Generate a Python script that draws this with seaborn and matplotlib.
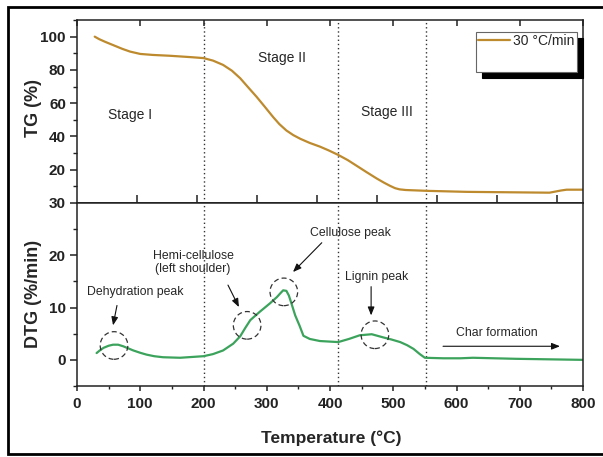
import numpy as np
import pandas as pd
import matplotlib
matplotlib.use("Agg")
import matplotlib.pyplot as plt
import seaborn as sns
from matplotlib.patches import Ellipse
from matplotlib.lines import Line2D

# ---------------- data ----------------
tg_temp = [28, 35, 45, 63, 72, 84, 100, 120, 147, 179, 200, 215, 231, 245, 258, 270,
           284, 297, 310, 320, 331, 342, 353, 368, 384, 398, 413, 428, 442, 458,
           474, 485, 495, 503, 510, 520, 554, 616, 747, 765, 774, 800]
tg_val = [100, 98.5, 96.8, 94, 92.6, 91, 89.6, 89, 88.5, 87.7, 87.1, 85.6, 83, 79.5,
          75, 69.8, 63.8, 57.8, 51.7, 47.4, 43.6, 40.8, 38.6, 36.1, 33.9, 31.6, 28.9,
          25.8, 22.4, 18.5, 14.7, 12.3, 10.3, 8.9, 8.2, 7.8, 7.3, 6.7, 6.2, 7.5, 8, 8]

dtg_temp = [31, 36, 42, 50, 57, 65, 73, 81, 89, 100, 110, 122, 136, 163, 200, 215,
            231, 247, 258, 266, 274, 289, 305, 316, 322, 326, 331, 335, 339, 345,
            352, 358, 368, 384, 413, 430, 447, 466, 484, 497, 511, 522, 532, 542,
            550, 579, 606, 626, 694, 800]
dtg_val = [1.3, 1.8, 2.3, 2.7, 2.9, 2.9, 2.6, 2.2, 1.8, 1.35, 1.0, 0.7, 0.5, 0.4, 0.7,
           1.1, 1.8, 3.1, 4.5, 6.1, 7.6, 9.2, 10.8, 12.0, 12.8, 13.3, 13.2, 12.3, 10.8,
           8.5, 6.5, 4.6, 4.0, 3.6, 3.4, 4.0, 4.7, 4.9, 4.3, 3.9, 3.4, 2.8, 2.1, 1.1,
           0.4, 0.3, 0.3, 0.4, 0.2, 0.0]

stage_bounds = [200, 412, 552]
tg_tick_pos = [0, 20, 40, 60, 80, 100]
tg_tick_labels = ["30", "20", "40", "60", "80", "100"]
dtg_ticks = [0, 10, 20]
x_ticks = [0, 100, 200, 300, 400, 500, 600, 700, 800]
legend_label = "30 °C/min"

tg_df = pd.DataFrame({"Temperature": tg_temp, "TG": tg_val})
dtg_df = pd.DataFrame({"Temperature": dtg_temp, "DTG": dtg_val})

# ---------------- style ----------------
sns.set_style("ticks")
plt.rcParams["font.family"] = ["Liberation Sans", "DejaVu Sans"]
plt.rcParams["axes.linewidth"] = 1.1

TG_COLOR = "#BD8A2E"
DTG_COLOR = "#3CA35C"
SPINE = "#222222"

fig = plt.figure(figsize=(6.03, 4.57), dpi=100)
ax1 = fig.add_axes([77 / 603, 1 - 203 / 457, 506 / 603, 183 / 457])
ax2 = fig.add_axes([77 / 603, 1 - 386 / 457, 506 / 603, 183 / 457])

sns.lineplot(data=tg_df, x="Temperature", y="TG", ax=ax1, color=TG_COLOR,
             lw=1.6, legend=False)
sns.lineplot(data=dtg_df, x="Temperature", y="DTG", ax=ax2, color=DTG_COLOR,
             lw=1.6, legend=False)

for ax in (ax1, ax2):
    ax.set_xlim(0, 800)
    ax.set_xlabel("")
    ax.set_ylabel("")
    for s in ax.spines.values():
        s.set_visible(True)
        s.set_color(SPINE)
        s.set_linewidth(1.1)
    for b in stage_bounds:
        ax.axvline(b, color="#333333", lw=1.0, ls=(0, (1, 2)), zorder=1)

# top panel
ax1.set_ylim(0, 110)
ax1.set_yticks(tg_tick_pos)
ax1.set_yticklabels(tg_tick_labels)
ax1.set_yticks(np.arange(10, 111, 20), minor=True)
ax1.tick_params(axis="y", which="major", direction="out", length=5, width=1.1,
                labelsize=11, pad=3, colors=SPINE)
ax1.tick_params(axis="y", which="minor", direction="out", length=3, width=1.0, colors=SPINE)
ax1.set_xticks(x_ticks)
ax1.tick_params(axis="x", which="major", top=True, bottom=False, direction="in",
                length=4.5, width=1.1, labelbottom=False, labeltop=False, colors=SPINE)
ax1.tick_params(axis="x", which="minor", top=False, bottom=False)
for lab in ax1.get_yticklabels():
    lab.set_fontweight("bold")

sec = ax1.secondary_xaxis("bottom", functions=(lambda x: x * 1.054, lambda x: x / 1.054))
sec.set_xticks(x_ticks[1:])
sec.tick_params(direction="inout", length=11, width=1.1, labelbottom=False, colors=SPINE)
sec.spines["bottom"].set_linewidth(1.1)
sec.spines["bottom"].set_color(SPINE)

leg = ax1.legend(handles=[Line2D([], [], color=TG_COLOR, lw=1.6),
                          Line2D([], [], color="none")],
                 labels=[legend_label, " "],
                 loc="upper right", bbox_to_anchor=(0.988, 0.934),
                 bbox_transform=ax1.transAxes, borderaxespad=0,
                 fontsize=10, frameon=True, fancybox=False, framealpha=1,
                 edgecolor="#666666", handlelength=2.3, handletextpad=0.25,
                 borderpad=0.15, labelspacing=0.55,
                 shadow={"ox": 4.3, "oy": -4.3, "facecolor": "black",
                         "edgecolor": "black", "alpha": 1})
leg.get_frame().set_linewidth(0.8)

ax1.text(83.8, 52.7, "Stage I", ha="center", va="center", fontsize=10)
ax1.text(324, 87.3, "Stage II", ha="center", va="center", fontsize=10)
ax1.text(490, 54.5, "Stage III", ha="center", va="center", fontsize=10)

# bottom panel
ax2.set_ylim(-5, 30)
ax2.set_yticks(dtg_ticks)
ax2.set_yticks([-5, 5, 15, 25], minor=True)
ax2.set_xticks(x_ticks)
ax2.set_xticks(np.arange(50, 800, 100), minor=True)
ax2.tick_params(axis="y", which="major", direction="out", length=5, width=1.1,
                labelsize=11, pad=3, colors=SPINE)
ax2.tick_params(axis="y", which="minor", direction="out", length=3, width=1.0, colors=SPINE)
ax2.tick_params(axis="x", which="major", direction="out", length=3.6, width=1.1,
                labelsize=11, pad=4, colors=SPINE)
ax2.tick_params(axis="x", which="minor", direction="out", length=2.2, width=1.0, colors=SPINE)
for lab in ax2.get_yticklabels() + ax2.get_xticklabels():
    lab.set_fontweight("bold")

# annotations: dashed circles
circles = [(58.5, 2.75), (269, 6.6), (327, 13.0), (471, 4.8)]
rx = 2 * 13.8 / (506 / 800)
ry = 2 * 13.8 / (183 / 35)
for cx, cy in circles:
    ax2.add_patch(Ellipse((cx, cy), rx, ry, fill=False, ls=(0, (4, 2.5)),
                          lw=0.9, color="#333333", zorder=4))

arrow_kw = dict(arrowstyle="-|>,head_length=0.5,head_width=0.2", color="#111111",
                lw=0.8, shrinkA=0, shrinkB=0)
ax2.annotate("", xy=(57, 6.6), xytext=(63.2, 10.4), arrowprops=arrow_kw)
ax2.annotate("", xy=(256, 10.1), xytext=(238.7, 14.3), arrowprops=arrow_kw)
ax2.annotate("", xy=(341.5, 16.8), xytext=(387, 22.4), arrowprops=arrow_kw)
ax2.annotate("", xy=(465, 8.5), xytext=(465, 14.0), arrowprops=arrow_kw)
ax2.annotate("", xy=(763.6, 2.6), xytext=(578.7, 2.6), arrowprops=arrow_kw)

ax2.text(91.7, 13.0, "Dehydration peak", ha="center", va="center", fontsize=8.8)
ax2.text(183.4, 18.7, "Hemi-cellulose\n(left shoulder)", ha="center", va="center",
         fontsize=8.8, linespacing=1.1)
ax2.text(431.6, 24.3, "Cellulose peak", ha="center", va="center", fontsize=8.8)
ax2.text(474, 15.9, "Lignin peak", ha="center", va="center", fontsize=8.8)
ax2.text(664, 5.1, "Char formation", ha="center", va="center", fontsize=8.8)

# axis labels
fig.text(33 / 603, 1 - 108 / 457, "TG (%)", rotation=90, ha="center", va="center",
         fontsize=13, fontweight="bold")
fig.text(33 / 603, 1 - 294 / 457, "DTG (%/min)", rotation=90, ha="center", va="center",
         fontsize=13, fontweight="bold")
fig.text(331 / 603, 1 - 438 / 457, "Temperature (°C)", ha="center", va="center",
         fontsize=12.5, fontweight="bold")

# outer frame: top, left and bottom edges (right side cropped in original)
fx0, fy_top, fy_bot = 7.5 / 603, 1 - 7 / 457, 1 - 453.5 / 457
fig.add_artist(Line2D([1.0, fx0, fx0, 1.0], [fy_top, fy_top, fy_bot, fy_bot],
                      transform=fig.transFigure, color="black", lw=2.0,
                      solid_joinstyle="miter"))

fig.savefig("out.png", dpi=100)
